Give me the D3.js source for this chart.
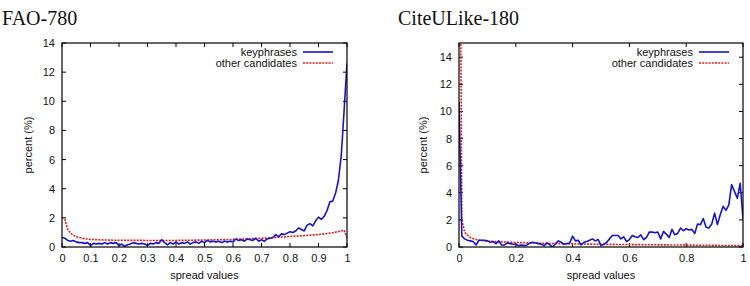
<!DOCTYPE html>
<html>
<head>
<meta charset="utf-8">
<script src="https://cdn.jsdelivr.net/npm/d3@7"></script>
<style>
  body { margin: 0; background: #fff; }
  text { font-family: "Liberation Sans", Arial, sans-serif; }
  .title { font-family: "Liberation Serif", "Times New Roman", serif; }
</style>
</head>
<body>
<svg id="chart" width="750" height="286"></svg>
<script>
var seriesNames = ["keyphrases", "other candidates"];

// spread value bins, 0..1 in 0.01 steps
var spreadBins = d3.range(101).map(function(i) { return i / 100; });

var faoKeyphrases = [
  0.65, 0.6, 0.45, 0.4, 0.45, 0.35, 0.3, 0.3, 0.25, 0.3,
  0.1, 0.25, 0.2, 0.25, 0.2, 0.3, 0.2, 0.3, 0.25, 0.3,
  0.1, 0.2, 0.05, 0.15, 0.2, 0.3, 0.25, 0.2, 0.25, 0.2,
  0.1, 0.25, 0.2, 0.3, 0.25, 0.5, 0.3, 0.15, 0.3, 0.2,
  0.35, 0.2, 0.3, 0.25, 0.35, 0.2, 0.3, 0.35, 0.25, 0.4,
  0.3, 0.45, 0.35, 0.4, 0.35, 0.4, 0.3, 0.4, 0.35, 0.4,
  0.35, 0.55, 0.45, 0.5, 0.4, 0.55, 0.5, 0.45, 0.6, 0.4,
  0.5, 0.4, 0.55, 0.6, 0.65, 0.85, 0.7, 0.9, 0.85, 0.95,
  1.05, 1.0, 1.1, 1.3, 1.2, 1.1, 1.5, 1.6, 1.45, 1.8,
  2.05, 1.9, 2.1, 2.5, 3.1, 3.15, 3.7, 4.6, 6.3, 9.4,
  12.6
];

var faoCandidatesX = [0, 0.01, 0.02, 0.03, 0.04, 0.05, 0.06, 0.07, 0.08, 0.1,
  0.15, 0.2, 0.3, 0.4, 0.5, 0.6, 0.7, 0.75, 0.8, 0.85, 0.9, 0.95, 0.98, 0.99, 1.0];
var faoCandidates = [2.05, 1.9, 1.2, 0.95, 0.8, 0.7, 0.65, 0.6, 0.57, 0.52,
  0.48, 0.46, 0.45, 0.45, 0.48, 0.52, 0.6, 0.65, 0.72, 0.78, 0.85, 0.98, 1.1, 1.15, 0.6];

var citeKeyphrases = [
  10.7, 0.8, 0.6, 0.5, 0.45, 0.4, 0.15, 0.5, 0.5, 0.5,
  0.45, 0.35, 0.4, 0.25, 0.45, 0.15, 0.15, 0.3, 0.25, 0.2,
  0.2, 0.1, 0.15, 0.1, 0.15, 0.3, 0.35, 0.3, 0.25, 0.2,
  0.1, 0.3, 0.15, 0.0, 0.25, 0.45, 0.35, 0.2, 0.25, 0.3,
  0.8, 0.45, 0.5, 0.15, 0.35, 0.4, 0.5, 0.6, 0.45, 0.55,
  0.1, 0.2, 0.35, 0.6, 0.85, 0.85, 0.85, 0.6, 0.75, 0.4,
  0.55, 0.85, 0.75, 0.7, 0.9, 0.55, 0.7, 1.1, 1.1, 1.05,
  1.1, 0.6, 1.15, 0.95, 0.7, 1.3, 0.9, 1.0, 1.4, 1.2,
  1.35, 1.25, 1.3, 1.0, 1.7, 1.65, 2.1, 1.45, 1.4, 1.7,
  2.5, 1.65, 2.4, 3.0, 2.7, 3.1, 4.6, 4.1, 3.6, 4.7,
  2.1
];

var citeCandidatesX = [0, 0.01, 0.02, 0.03, 0.04, 0.05, 0.06, 0.07, 0.08, 0.1,
  0.15, 0.2, 0.3, 0.4, 0.5, 0.6, 0.7, 0.8, 0.9, 1.0];
var citeCandidates = [40, 2.0, 1.1, 0.85, 0.7, 0.62, 0.55, 0.5, 0.48, 0.43,
  0.38, 0.33, 0.27, 0.23, 0.2, 0.18, 0.16, 0.14, 0.12, 0.1];

var faoXTicks = d3.range(11).map(function(i) { return i / 10; });
var citeXTicks = [0, 0.2, 0.4, 0.6, 0.8, 1];
var yTicks = [0, 2, 4, 6, 8, 10, 12, 14];

function tickFormat(d) {
  return d === 0 || d === 1 ? d3.format("d")(d) : d3.format(".1f")(d);
}

var panels = [
  {
    id: "fao", title: "FAO-780", titleX: 2, left: 62, right: 347, yMax: 14,
    xTicks: faoXTicks, key: faoKeyphrases, candX: faoCandidatesX, cand: faoCandidates, labelX: 28
  },
  {
    id: "cite", title: "CiteULike-180", titleX: 398, left: 459, right: 743, yMax: 15.05,
    xTicks: citeXTicks, key: citeKeyphrases, candX: citeCandidatesX, cand: citeCandidates, labelX: 423
  }
];

var plotTop = 43, plotBottom = 247;
var svg = d3.select("#chart");

panels.forEach(function(p) {
  var g = svg.append("g");
  var x = d3.scaleLinear().domain([0, 1]).range([p.left, p.right]);
  var y = d3.scaleLinear().domain([0, p.yMax]).range([plotBottom, plotTop]);

  g.append("text")
    .attr("class", "title")
    .attr("x", p.titleX)
    .attr("y", 25)
    .attr("font-size", "20px")
    .attr("fill", "#111")
    .text(p.title);

  g.append("clipPath").attr("id", "clip-" + p.id)
    .append("rect")
    .attr("x", p.left).attr("y", plotTop)
    .attr("width", p.right - p.left).attr("height", plotBottom - plotTop);

  // ticks inside on all four sides (mirrored)
  var tickLen = 4;
  var ticks = g.append("g").attr("stroke", "#000").attr("stroke-width", 1);
  p.xTicks.forEach(function(t) {
    ticks.append("line").attr("x1", x(t)).attr("x2", x(t)).attr("y1", plotBottom).attr("y2", plotBottom - tickLen);
    ticks.append("line").attr("x1", x(t)).attr("x2", x(t)).attr("y1", plotTop).attr("y2", plotTop + tickLen);
  });
  yTicks.forEach(function(t) {
    ticks.append("line").attr("x1", p.left).attr("x2", p.left + tickLen).attr("y1", y(t)).attr("y2", y(t));
    ticks.append("line").attr("x1", p.right).attr("x2", p.right - tickLen).attr("y1", y(t)).attr("y2", y(t));
  });

  var xAxis = d3.axisBottom(x).tickValues(p.xTicks).tickFormat(tickFormat).tickSize(0).tickPadding(7);
  g.append("g")
    .attr("transform", "translate(0," + plotBottom + ")")
    .call(xAxis)
    .call(function(a) { a.select(".domain").remove(); })
    .selectAll("text").attr("font-size", "11px").attr("fill", "#111")
    .attr("font-family", "'Liberation Sans', Arial, sans-serif");

  var yAxis = d3.axisLeft(y).tickValues(yTicks).tickSize(0).tickPadding(7);
  g.append("g")
    .attr("transform", "translate(" + p.left + ",0)")
    .call(yAxis)
    .call(function(a) { a.select(".domain").remove(); })
    .selectAll("text").attr("font-size", "11px").attr("fill", "#111")
    .attr("font-family", "'Liberation Sans', Arial, sans-serif");

  g.append("text")
    .attr("x", (p.left + p.right) / 2)
    .attr("y", 279)
    .attr("text-anchor", "middle")
    .attr("font-size", "11px")
    .attr("fill", "#111")
    .text("spread values");

  g.append("text")
    .attr("transform", "translate(" + p.labelX + "," + (plotTop + plotBottom) / 2 + ") rotate(-90)")
    .attr("dy", "0.35em")
    .attr("text-anchor", "middle")
    .attr("font-size", "11px")
    .attr("fill", "#111")
    .text("percent (%)");

  var line = d3.line()
    .x(function(d) { return x(d[0]); })
    .y(function(d) { return y(d[1]); });

  var plot = g.append("g").attr("clip-path", "url(#clip-" + p.id + ")");

  plot.append("path")
    .datum(d3.zip(p.candX, p.cand))
    .attr("d", line)
    .attr("fill", "none")
    .attr("stroke", "#e41a1c")
    .attr("stroke-width", 1.6)
    .attr("stroke-dasharray", "2,1.2");

  plot.append("path")
    .datum(d3.zip(spreadBins, p.key))
    .attr("d", line)
    .attr("fill", "none")
    .attr("stroke", "#1515c8")
    .attr("stroke-width", 1.6)
    .attr("stroke-linejoin", "round");

  // border
  g.append("rect")
    .attr("x", p.left).attr("y", plotTop)
    .attr("width", p.right - p.left).attr("height", plotBottom - plotTop)
    .attr("fill", "none").attr("stroke", "#000").attr("stroke-width", 1.2);

  // legend, top right inside the frame
  var legendRight = p.right - 50;
  seriesNames.forEach(function(name, i) {
    var ly = 52 + i * 11;
    g.append("text")
      .attr("x", legendRight)
      .attr("y", ly)
      .attr("dy", "0.35em")
      .attr("text-anchor", "end")
      .attr("font-size", "11px")
      .attr("fill", "#111")
      .text(name);
    g.append("line")
      .attr("x1", legendRight + 6).attr("x2", legendRight + 36)
      .attr("y1", ly).attr("y2", ly)
      .attr("stroke", i === 0 ? "#1515c8" : "#e41a1c")
      .attr("stroke-width", 1.6)
      .attr("stroke-dasharray", i === 0 ? null : "2,1.2");
  });
});
</script>
</body>
</html>
